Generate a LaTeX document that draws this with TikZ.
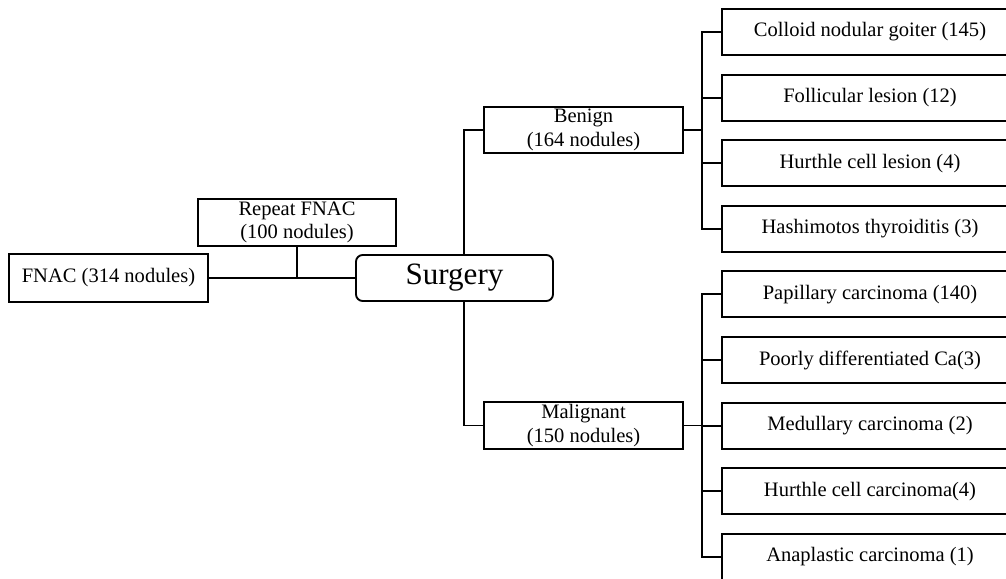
\documentclass[tikz,border=0pt]{standalone}
\usepackage{fontspec}
\setmainfont{Liberation Serif}
\begin{document}
\begin{tikzpicture}[x=0.75pt,y=-0.75pt,
  line width=1.4pt,
  box/.style={draw=black, line width=1.4pt, inner sep=1pt, align=center,
    font=\fontsize{15.4pt}{17.8pt}\selectfont},
  leaf/.style={box, minimum width=222pt, minimum height=34.5pt},
  mid/.style={box, minimum width=149.25pt, minimum height=34.8pt},
  surgbox/.style={draw=black, line width=1.4pt, rounded corners=5pt, inner sep=1pt,
    minimum width=147.75pt, minimum height=34.5pt,
    font=\fontsize{23.3pt}{28pt}\selectfont},
  conn/.style={draw=black, line width=1.4pt}
]
\useasboundingbox (0,0) rectangle (1006,578);
\clip (0,0) rectangle (1006,578);

\node[box, minimum width=149.25pt, minimum height=36pt] (fnac) at (108.5,278) {FNAC (314 nodules)};
\node[box, minimum width=148.5pt, minimum height=35.25pt] (rep) at (297,222.5) {Repeat FNAC\\(100 nodules)};
\node[surgbox] (surg) at (454.5,278) {Surgery};
\node[mid] (ben) at (583.5,130) {Benign\\(164 nodules)};
\node[mid] (mal) at (583.5,425.5) {Malignant\\(150 nodules)};

\node[leaf] (r1) at (870,32) {Colloid nodular goiter (145)};
\node[leaf] (r2) at (870,97.6) {Follicular lesion (12)};
\node[leaf] (r3) at (870,163.2) {Hurthle cell lesion (4)};
\node[leaf] (r4) at (870,228.8) {Hashimotos thyroiditis (3)};
\node[leaf] (r5) at (870,294.4) {Papillary carcinoma (140)};
\node[leaf] (r6) at (870,360) {Poorly differentiated Ca(3)};
\node[leaf] (r7) at (870,425.6) {Medullary carcinoma (2)};
\node[leaf] (r8) at (870,491.2) {Hurthle cell carcinoma(4)};
\node[leaf] (r9) at (870,556.8) {Anaplastic carcinoma (1)};

\coordinate (sv) at (464,0);
\coordinate (bb) at (702,0);

% left part
\draw[conn] (fnac.east) -- (surg.west);
\draw[conn] (rep.south) -- (rep.south |- fnac.east);

% surgery to benign / malignant
\draw[conn] (ben.west) -| (sv |- surg.north);
\draw[conn] (mal.west) -| (sv |- surg.south);

% benign bus
\draw[conn] (ben.east) -- (bb |- ben.east);
\draw[conn] (r1.west) -| (bb |- r4.west) -- (r4.west);
\draw[conn] (r2.west) -- (bb |- r2.west);
\draw[conn] (r3.west) -- (bb |- r3.west);

% malignant bus
\draw[conn] (mal.east) -- (bb |- mal.east);
\draw[conn] (r5.west) -| (bb |- r9.west) -- (r9.west);
\draw[conn] (r6.west) -- (bb |- r6.west);
\draw[conn] (r7.west) -- (bb |- r7.west);
\draw[conn] (r8.west) -- (bb |- r8.west);
\end{tikzpicture}
\end{document}
